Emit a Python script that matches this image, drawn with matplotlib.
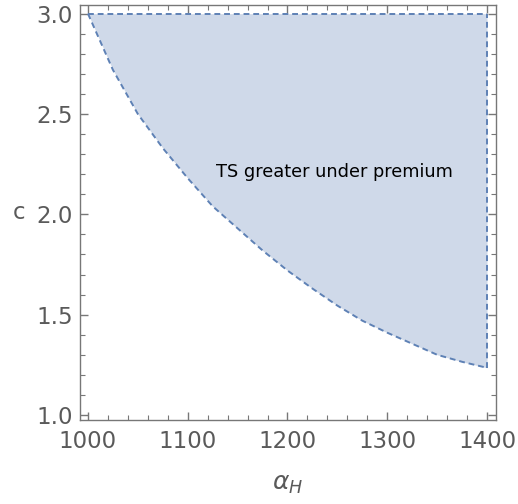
import matplotlib
matplotlib.use("Agg")
import matplotlib.pyplot as plt
from matplotlib.ticker import MultipleLocator

# boundary of the region
alpha_h = [1000, 1025, 1050, 1075, 1100, 1125, 1150, 1175, 1200,
           1225, 1250, 1275, 1300, 1325, 1350, 1375, 1400]
c_bound = [3.00, 2.72, 2.50, 2.33, 2.18, 2.04, 1.93, 1.82, 1.72,
           1.63, 1.545, 1.47, 1.41, 1.355, 1.30, 1.265, 1.235]
c_top = 3.0
region_label = "TS greater under premium"

fill_col = "#CFD9E9"
edge_col = "#5E81B5"
gray = "#5a5a5a"

fig = plt.figure(figsize=(5.18, 5.04), dpi=100)
ax = fig.add_axes([0.1544, 0.1667, 0.8031, 0.8233])

ax.fill_between(alpha_h, c_bound, c_top, color=fill_col, lw=0)
dash = dict(color=edge_col, lw=1.4, ls=(0, (3, 2)))
ax.plot(alpha_h, c_bound, **dash)
ax.plot([alpha_h[0], alpha_h[-1]], [c_top, c_top], **dash)
ax.plot([alpha_h[-1], alpha_h[-1]], [c_bound[-1], c_top], **dash)

ax.text(1247, 2.21, region_label, ha="center", va="center",
        fontsize=12.8, color="black")

ax.set_xlim(992, 1409)
ax.set_ylim(0.975, 3.043)
ax.xaxis.set_major_locator(MultipleLocator(100))
ax.xaxis.set_minor_locator(MultipleLocator(20))
ax.yaxis.set_major_locator(MultipleLocator(0.5))
ax.yaxis.set_minor_locator(MultipleLocator(0.1))
ax.tick_params(which="both", direction="in", top=True, right=True,
               color="#777777", labelcolor=gray, labelsize=16.5)
ax.tick_params(which="major", length=6, width=1)
ax.tick_params(which="minor", length=3.5, width=0.8)
ax.tick_params(axis="x", which="major", pad=7)
ax.tick_params(axis="y", which="major", pad=5)
ax.yaxis.set_major_formatter(matplotlib.ticker.FormatStrFormatter("%.1f"))
for s in ax.spines.values():
    s.set_color("#777777")
    s.set_linewidth(1)

ax.set_xlabel(r"$\alpha_H$", fontsize=18, color=gray, labelpad=14)
ax.set_ylabel("c", fontsize=16.5, color=gray, rotation=0, va="center", ha="center")
ax.yaxis.set_label_coords(-0.147, 0.5)

fig.savefig("out.png", dpi=100)
